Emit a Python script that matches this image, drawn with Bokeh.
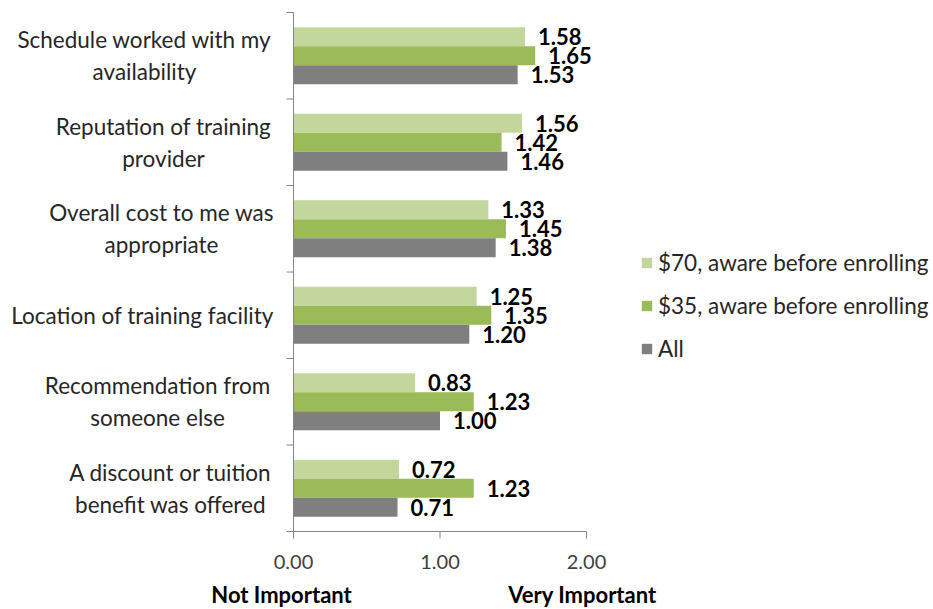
from bokeh.plotting import figure
from bokeh.models import ColumnDataSource, Legend, LegendItem, Range1d
from bokeh.core.properties import value
from bokeh.embed import file_html
from bokeh.resources import INLINE

categories = ["Schedule worked with my\navailability",
              "Reputation of training\nprovider",
              "Overall cost to me was\nappropriate",
              "Location of training facility",
              "Recommendation from\nsomeone else",
              "A discount or tuition\nbenefit was offered"]
series_names = ["$70, aware before enrolling", "$35, aware before enrolling", "All"]
s70 = [1.58, 1.56, 1.33, 1.25, 0.83, 0.72]
s35 = [1.65, 1.42, 1.45, 1.35, 1.23, 1.23]
s_all = [1.53, 1.46, 1.38, 1.20, 1.00, 0.71]
x_ticks = [0.0, 1.0, 2.0]
axis_titles = ["Not Important", "Very Important"]

# layout constants (pixels)
label_centers_px = [144, 163, 161, 142, 157, 170]   # centre of each category label block
title_centers_px = [281, 582]
colors = ["#C3D69B", "#9BBB59", "#7F7F7F"]
axis_col = "#868686"
FONT = "Lato"
W, H = 933, 609
x0_px = 293          # pixel of value 0
px_per_unit = 146.5  # pixels per 1.00
top_px, bottom_px = 12, 531
n = len(categories)
y_per_px = n / (bottom_px - top_px)
pos = [n - 1 - i for i in range(n)]
offsets = [0.22, 0.0, -0.22]
bar_h = 0.22

def px2x(px):
    return (px - x0_px) / px_per_unit

def px2y(py):
    return -0.5 + (bottom_px - py) * y_per_px

p = figure(width=W, height=H, output_backend="svg", toolbar_location=None,
           x_range=Range1d(px2x(0), px2x(W)), y_range=Range1d(px2y(H), px2y(0)),
           min_border_left=0, min_border_right=0, min_border_top=0, min_border_bottom=0,
           x_axis_type=None, y_axis_type=None)
p.outline_line_color = None
p.xgrid.visible = False
p.ygrid.visible = False
p.background_fill_color = "white"
p.border_fill_color = "white"

renderers = []
for vals, off, col in zip([s70, s35, s_all], offsets, colors):
    src = ColumnDataSource(dict(y=[q + off for q in pos], right=vals,
                                lab=["%.2f" % v for v in vals]))
    r = p.hbar(y="y", right="right", left=0, height=bar_h, source=src,
               fill_color=col, line_color=None)
    renderers.append(r)
    p.text(x="right", y="y", text="lab", source=src, x_offset=13,
           text_baseline="middle", text_align="left", text_font=value(FONT),
           text_font_style="bold", text_font_size="22px", text_color="black")

# category axis (line, boundary ticks, labels)
bounds = [k - 0.5 for k in range(n + 1)]
p.segment(x0=[0], y0=[bounds[0]], x1=[0], y1=[bounds[-1]], line_color=axis_col, line_width=1)
p.segment(x0=[0] * len(bounds), y0=bounds, x1=[px2x(x0_px - 7)] * len(bounds), y1=bounds,
          line_color=axis_col, line_width=1)
lab_src = ColumnDataSource(dict(x=[px2x(c) for c in label_centers_px], y=pos, t=categories))
p.text(x="x", y="y", text="t", source=lab_src, text_align="center", text_baseline="middle",
       text_font=value(FONT), text_font_size="22.5px", text_color="#262626",
       text_line_height=1.17)

# value axis (line, ticks, tick labels)
p.segment(x0=[x_ticks[0]], y0=[bounds[0]], x1=[x_ticks[-1]], y1=[bounds[0]],
          line_color=axis_col, line_width=1)
p.segment(x0=x_ticks, y0=[bounds[0]] * len(x_ticks), x1=x_ticks,
          y1=[px2y(bottom_px + 7)] * len(x_ticks), line_color=axis_col, line_width=1)
tk_src = ColumnDataSource(dict(x=x_ticks, y=[px2y(561)] * len(x_ticks),
                               t=["%.2f" % v for v in x_ticks]))
p.text(x="x", y="y", text="t", source=tk_src, text_align="center", text_baseline="middle",
       text_font=value(FONT), text_font_size="20px", text_color="#404040")

# scale-end titles
t_src = ColumnDataSource(dict(x=[px2x(c) for c in title_centers_px], y=[px2y(594)] * 2,
                              t=axis_titles))
p.text(x="x", y="y", text="t", source=t_src, text_align="center", text_baseline="middle",
       text_font=value(FONT), text_font_style="bold", text_font_size="22px", text_color="black")

legend = Legend(items=[LegendItem(label=nm, renderers=[r]) for nm, r in zip(series_names, renderers)],
                location=(640, H - 362), padding=0, margin=0, border_line_color=None,
                background_fill_alpha=0, glyph_width=13, glyph_height=13, label_standoff=5,
                label_text_font=FONT, label_text_font_size="22.5px", label_text_color="#262626",
                label_height=20, spacing=16)
p.add_layout(legend)

open("out.html", "w").write(file_html(p, INLINE))
